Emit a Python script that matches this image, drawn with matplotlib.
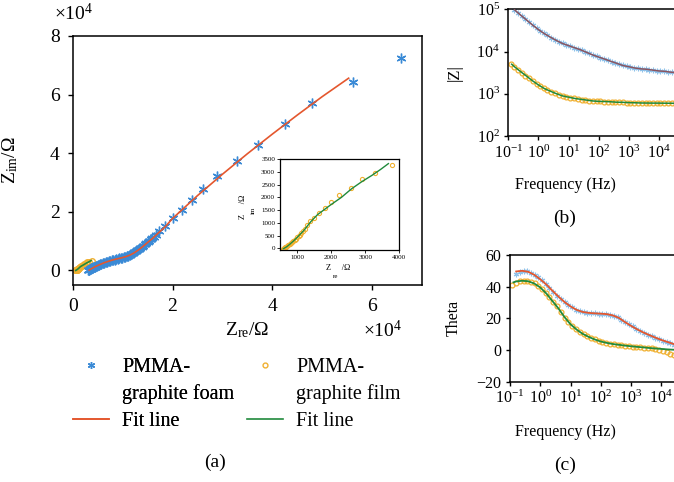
import matplotlib
matplotlib.use('Agg')
import matplotlib.pyplot as plt
from matplotlib.lines import Line2D
from matplotlib.ticker import FixedLocator, FuncFormatter, NullLocator

plt.rcParams['font.family'] = ['Liberation Serif', 'DejaVu Serif']
plt.rcParams['mathtext.fontset'] = 'custom'
plt.rcParams['mathtext.rm'] = 'Liberation Serif'
plt.rcParams['mathtext.it'] = 'Liberation Serif:italic'
plt.rcParams['axes.unicode_minus'] = True

# ---------------- Nyquist data (Ohm) ----------------
foam_re = [3150, 3250, 3350, 3450, 3550, 3650, 3750, 3850, 3950, 4100, 4250, 4400, 4600, 4800,
           5000, 5250, 5500, 5750, 6000, 6300, 6600, 6900, 7200, 7500, 7800, 8100, 8400, 8700,
           9000, 9300, 9600, 9900, 10200, 10500, 10800, 11100, 11400, 11700, 12000, 12300, 12600,
           12900, 13200, 13500, 13800, 14100, 14400, 14700, 15000, 15300, 15600, 15900, 16200, 16600,
           17200, 18500, 20100, 22000, 24000, 26200, 29000, 32900, 37100, 42600, 48000, 56200, 65700]
foam_im = [50, 160, 270, 380, 480, 580, 670, 760, 850, 980, 1100, 1220, 1380, 1540,
           1700, 1880, 2060, 2240, 2420, 2610, 2790, 2960, 3120, 3280, 3430, 3570, 3700, 3820,
           3940, 4050, 4160, 4280, 4400, 4560, 4740, 4950, 5200, 5480, 5800, 6150, 6500,
           6850, 7250, 7650, 8050, 8450, 8850, 9250, 9700, 10150, 10600, 11050, 11500, 12100,
           13300, 15200, 17900, 20700, 24100, 27700, 32300, 37200, 42900, 49900, 57100, 64400, 72400]
foam_fit_re = [3300, 3600, 4000, 4500, 5000, 5600, 6300, 7000, 7800, 8700, 9600, 10500, 11400,
               12300, 13200, 14100, 15000, 16000, 17000, 18500, 20000, 22500, 25000, 30000,
               35000, 40000, 45000, 50000, 55300]
foam_fit_im = [100, 420, 800, 1250, 1650, 2100, 2600, 3000, 3450, 3850, 4200, 4600, 5150,
               5950, 7000, 8200, 9500, 10900, 12500, 14800, 17700, 21600, 25500, 32800,
               39800, 46500, 53000, 59300, 65600]

film_re = [590, 620, 650, 680, 710, 745, 780, 815, 850, 890, 930, 970, 1010, 1050, 1090, 1130,
           1170, 1220, 1290, 1370, 1510, 1630, 1830, 1990, 2220, 2580, 2900, 3290, 3790]
film_im = [-20, 5, 30, 60, 90, 120, 150, 190, 230, 280, 330, 380, 430, 480, 540, 600,
           660, 740, 900, 1060, 1190, 1390, 1600, 1830, 2100, 2360, 2720, 2960, 3270]
film_fit_re = [600, 700, 800, 900, 1000, 1100, 1200, 1400, 1600, 1800, 2000, 2300, 2600,
               2900, 3200, 3450, 3680]
film_fit_im = [-20, 60, 170, 290, 420, 560, 700, 1040, 1320, 1520, 1720, 2000, 2340,
               2620, 2870, 3100, 3330]

# ---------------- Bode data ----------------
freq = [0.12, 0.16, 0.21, 0.28, 0.37, 0.49, 0.65, 0.87, 1.15, 1.5, 2.0, 2.7, 3.6, 4.8, 6.4,
        8.5, 11.3, 15, 20, 27, 36, 48, 64, 85, 113, 150, 200, 270, 360, 480, 640, 850, 1130,
        1500, 2000, 2700, 3600, 4800, 6400, 8500, 11300, 15000, 20000, 27000, 36000]
freq_foam = freq[1:]

zmod_foam = [97700, 81300, 69200, 58900, 49000, 41700, 35500, 30900, 26900, 24000, 20900,
             18600, 17000, 15500, 14500, 13200, 12300, 11700, 10700, 9770, 9120, 8320, 7760,
             7080, 6610, 6170, 5750, 5370, 5010, 4680, 4470, 4270, 4070, 3980, 3890, 3800,
             3720, 3630, 3550, 3470, 3390, 3310, 3240, 3240]
zmod_film = [5130, 4370, 3720, 3160, 2690, 2340, 2040, 1740, 1510, 1350, 1230, 1120, 1020,
             955, 891, 851, 813, 776, 759, 724, 708, 692, 676, 670, 661, 655, 646, 640, 631,
             628, 624, 620, 616, 612, 610, 607, 605, 603, 601, 600, 599, 598, 597, 596, 595]
theta_foam = [48.0, 49.5, 50.0, 49.8, 48.8, 47.6, 46.0, 44.3, 41.8, 39.3, 36.8, 34.2, 32.0,
              30.0, 28.3, 26.8, 25.4, 24.5, 23.9, 23.4, 23.2, 23.1, 23.0, 22.9, 22.7, 22.3,
              21.6, 20.5, 19.2, 17.6, 16.2, 14.8, 13.3, 12.0, 10.9, 9.7, 8.6, 7.6, 6.7, 5.8,
              4.9, 4.1, 3.3, 2.6]
theta_film = [41.3, 42.6, 43.4, 43.7, 43.5, 43.0, 42.1, 40.6, 38.6, 36.2, 33.2, 30.5, 27.5,
              24.0, 20.3, 17.4, 15.0, 13.0, 11.4, 10.0, 8.8, 7.7, 6.7, 5.9, 5.1, 4.5, 4.0,
              3.6, 3.2, 2.9, 2.6, 2.3, 2.1, 1.9, 1.7, 1.5, 1.3, 1.0, 0.6, 0.1, -0.6, -1.6,
              -2.4, -3.0, -3.5]

fit_freq = [0.16, 0.25, 0.4, 0.63, 1, 1.6, 2.5, 4, 6.3, 10, 16, 25, 40, 63, 100, 160, 250,
            400, 630, 1000, 1600, 2500, 4000, 6300, 10000, 16000, 25000, 40000]
fit_freq_film = [0.13] + fit_freq
zmod_foam_fit = [97700, 74100, 56200, 42700, 33100, 26300, 21900, 18200, 15500, 13800, 12300,
                 11000, 9550, 8320, 7410, 6610, 5890, 5250, 4680, 4370, 4070, 3890, 3800, 3630,
                 3470, 3390, 3240, 3160]
zmod_film_fit = [5010, 4370, 3390, 2630, 2040, 1620, 1320, 1150, 1000, 891, 832, 776, 741, 708,
                 676, 661, 655, 646, 631, 628, 617, 612, 605, 603, 601, 600, 598, 596, 595]
theta_foam_fit = [49.6, 50.0, 49.4, 47.5, 44.6, 41.3, 37.5, 33.7, 30.3, 27.5, 25.3, 24.0, 23.4,
                  23.1, 22.9, 22.6, 21.8, 20.2, 17.6, 15.2, 13.0, 11.1, 9.4, 7.8, 6.3, 5.0,
                  3.8, 2.7]
theta_film_fit = [42.7, 43.3, 43.7, 43.4, 42.0, 39.5, 35.6, 31.0, 26.2, 20.8, 16.2, 12.8, 10.2,
                  8.2, 6.6, 5.3, 4.4, 3.7, 3.2, 2.7, 2.3, 1.9, 1.6, 1.2, 0.9, 0.6, 0.3, 0.1, -0.1]

# ---------------- styling ----------------
BLUE = '#3a8ad6'
LBLUE = '#8fc2ea'
RED = '#e4572e'
REDB = '#8a5560'
GOLD = '#f0b030'
GREEN = '#208a3c'
AST = (6, 2, 0)

W, H = 674, 482


def fc(x0, x1, y0, y1):
    return [x0 / W, 1 - y1 / H, (x1 - x0) / W, (y1 - y0) / H]


fig = plt.figure(figsize=(W / 100, H / 100), dpi=100)

# ---------------- panel (a) ----------------
axA = fig.add_axes(fc(72.7, 422, 36, 285))
axA.plot(film_re, film_im, ls='none', marker='o', mfc='none', mec=GOLD, ms=4, mew=1, zorder=2)
axA.plot(film_fit_re, film_fit_im, color=GREEN, lw=1.2, zorder=3)
axA.plot(foam_re, foam_im, ls='none', marker=AST, color=BLUE, ms=7, mew=1, zorder=4)
axA.plot(foam_fit_re, foam_fit_im, color=RED, lw=1.2, zorder=5)
axA.set_xlim(0, 70000)
axA.set_ylim(-5000, 80000)
axA.xaxis.set_major_locator(FixedLocator([0, 20000, 40000, 60000]))
axA.yaxis.set_major_locator(FixedLocator([0, 20000, 40000, 60000, 80000]))
fmt = FuncFormatter(lambda v, p: '%d' % round(v / 1e4))
axA.xaxis.set_major_formatter(fmt)
axA.yaxis.set_major_formatter(fmt)
axA.tick_params(labelsize=14, direction='out', length=3.5, width=1, pad=6)
for s in axA.spines.values():
    s.set_linewidth(1.1)
axA.set_ylabel('Z$_{\\rm im}$/Ω', fontsize=14)
axA.yaxis.set_label_coords(-0.151, 0.5)
axA.text(0.5, -0.18, 'Z$_{\\rm re}$/Ω', transform=axA.transAxes, ha='center', va='center', fontsize=14)
fig.text(383 / W, 1 - 330 / H, '×10$^4$', ha='center', va='center', fontsize=14)
fig.text(74 / W, 1 - 13 / H, '×10$^4$', ha='center', va='center', fontsize=14)

# inset
axI = fig.add_axes(fc(280, 399.3, 159.3, 250))
axI.plot(film_re, film_im, ls='none', marker='o', mfc='none', mec=GOLD, ms=3, mew=0.8, zorder=2)
axI.plot(film_fit_re, film_fit_im, color=GREEN, lw=1.0, zorder=3)
axI.set_xlim(500, 4000)
axI.set_ylim(-70, 3500)
axI.xaxis.set_major_locator(FixedLocator([1000, 2000, 3000, 4000]))
axI.yaxis.set_major_locator(FixedLocator([0, 500, 1000, 1500, 2000, 2500, 3000, 3500]))
axI.tick_params(labelsize=5, direction='out', length=2, width=0.6, pad=1.5)
for s in axI.spines.values():
    s.set_linewidth(0.9)
fig.text(338 / W, 1 - 268 / H, 'Z     /Ω', ha='center', va='center', fontsize=6)
fig.text(336 / W, 1 - 277 / H, 're', ha='center', va='center', fontsize=5)
fig.text(243 / W, 1 - 207 / H, 'Z     /Ω', ha='center', va='center', fontsize=6, rotation=90)
fig.text(253 / W, 1 - 210 / H, 'im', ha='center', va='center', fontsize=5, rotation=90)

# legend
h1 = [Line2D([], [], ls='none', marker=AST, color=BLUE, ms=5, mew=0.9),
      Line2D([], [], ls='none'),
      Line2D([], [], color=RED, lw=1.2)]
h2 = [Line2D([], [], ls='none', marker='o', mfc='none', mec=GOLD, ms=3.5, mew=1),
      Line2D([], [], ls='none'),
      Line2D([], [], color=GREEN, lw=1.2)]
leg_kw = dict(loc='upper left', frameon=False, fontsize=14.5, handlelength=1.8,
              handletextpad=0.65, labelspacing=0.36, borderpad=0, borderaxespad=0)
leg1 = fig.legend(h1, ['PMMA-', 'graphite foam', 'Fit line'],
                  bbox_to_anchor=(73 / W, 1 - 358 / H), **leg_kw)
leg2 = fig.legend(h2, ['PMMA-', 'graphite film', 'Fit line'],
                  bbox_to_anchor=(247 / W, 1 - 358 / H), **leg_kw)
fig.add_artist(leg1)
fig.text(215 / W, 1 - 462 / H, '(a)', ha='center', va='center', fontsize=14)

# ---------------- panel (b) ----------------
axB = fig.add_axes(fc(508.3, 689, 9.3, 136))
axB.plot(freq_foam, zmod_foam, ls='none', marker=AST, color=LBLUE, ms=4, mew=0.8, zorder=2)
axB.plot(freq, zmod_film, ls='none', marker='o', mfc='none', mec=GOLD, ms=3.5, mew=0.9, zorder=2)
axB.plot(fit_freq, zmod_foam_fit, color=REDB, lw=1.1, zorder=3)
axB.plot(fit_freq_film, zmod_film_fit, color=GREEN, lw=1.1, zorder=3)
axB.set_xscale('log')
axB.set_yscale('log')
axB.set_xlim(0.1, 1e5)
axB.set_ylim(100, 1e5)
axB.xaxis.set_major_locator(FixedLocator([0.1, 1, 10, 100, 1000, 1e4]))
axB.yaxis.set_major_locator(FixedLocator([100, 1000, 1e4, 1e5]))
axB.xaxis.set_minor_locator(NullLocator())
axB.yaxis.set_minor_locator(NullLocator())
axB.tick_params(labelsize=11.5, direction='out', length=3, width=1, pad=3)
for s in axB.spines.values():
    s.set_linewidth(1.1)
axB.set_ylabel('|Z|', fontsize=12)
axB.yaxis.set_label_coords(-0.25, 0.5)
axB.text(0.314, -0.387, 'Frequency (Hz)', transform=axB.transAxes, ha='center', va='center', fontsize=11.5)
fig.text(565 / W, 1 - 218 / H, '(b)', ha='center', va='center', fontsize=14)

# ---------------- panel (c) ----------------
axC = fig.add_axes(fc(510, 691.5, 255, 381.5))
axC.plot(freq_foam, theta_foam, ls='none', marker=AST, color=LBLUE, ms=4, mew=0.8, zorder=2)
axC.plot(freq, theta_film, ls='none', marker='o', mfc='none', mec=GOLD, ms=3.5, mew=0.9, zorder=2)
axC.plot(fit_freq, theta_foam_fit, color=RED, lw=1.3, zorder=3)
axC.plot(fit_freq_film, theta_film_fit, color=GREEN, lw=1.3, zorder=3)
axC.set_xscale('log')
axC.set_xlim(0.1, 1e5)
axC.set_ylim(-20, 60)
axC.xaxis.set_major_locator(FixedLocator([0.1, 1, 10, 100, 1000, 1e4]))
axC.xaxis.set_minor_locator(NullLocator())
axC.yaxis.set_major_locator(FixedLocator([-20, 0, 20, 40, 60]))
axC.tick_params(labelsize=11.5, direction='out', length=3, width=1, pad=3)
for s in axC.spines.values():
    s.set_linewidth(1.1)
axC.set_ylabel('Theta', fontsize=11.5)
axC.yaxis.set_label_coords(-0.265, 0.5)
axC.text(0.304, -0.40, 'Frequency (Hz)', transform=axC.transAxes, ha='center', va='center', fontsize=11.5)
fig.text(565 / W, 1 - 465 / H, '(c)', ha='center', va='center', fontsize=14)

fig.savefig('out.png', dpi=100)
